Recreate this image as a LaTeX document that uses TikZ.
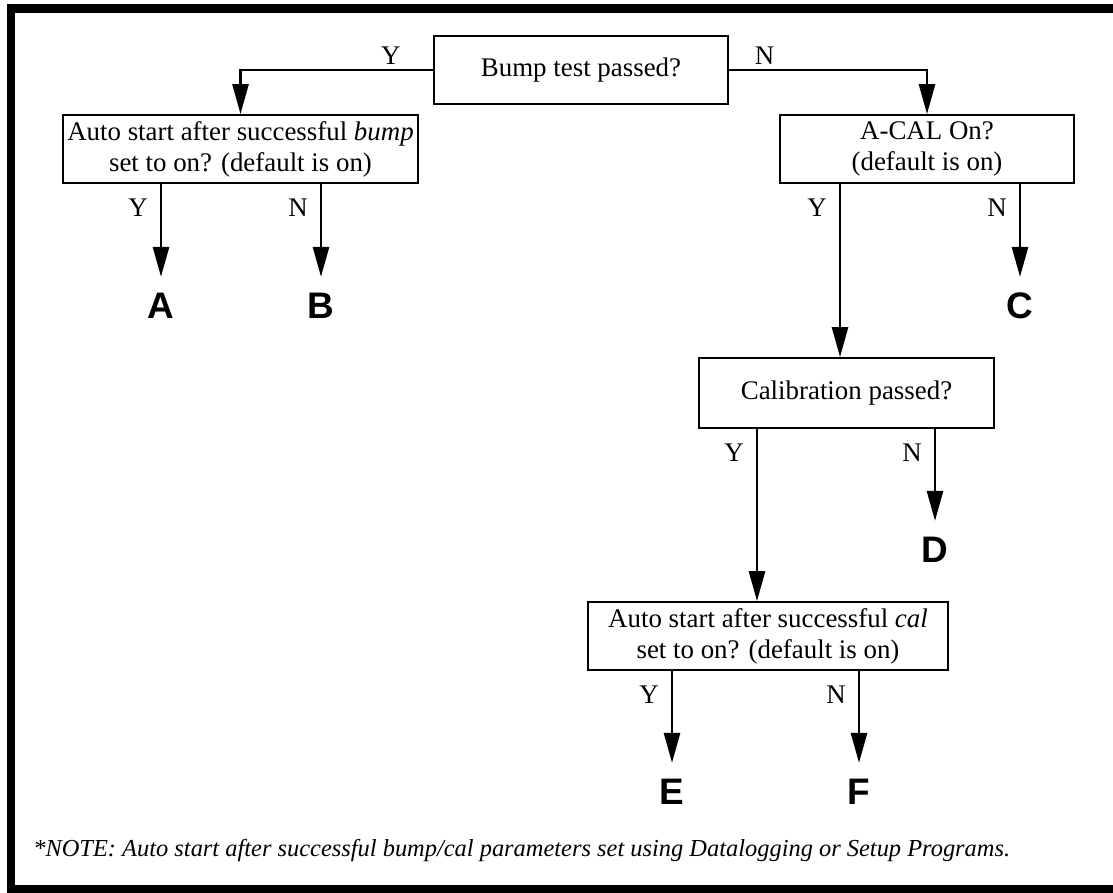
\documentclass[tikz,border=0pt]{standalone}
\usepackage{fontspec}
\setmainfont{Liberation Serif}
\newfontfamily\lettersans{Liberation Sans}
\usepackage{tikz}
\usetikzlibrary{arrows.meta,positioning}

\begin{document}
\begin{tikzpicture}[
  font=\fontsize{15.3}{17.6}\selectfont,
  qbox/.style={draw,line width=1pt,align=center,minimum height=1.36cm,inner sep=2pt},
  yn/.style={inner xsep=0.24cm,inner ysep=0.28cm},
  term/.style={font=\lettersans\bfseries\fontsize{21}{25}\selectfont,inner sep=0pt,outer ysep=0.32cm},
  arr/.style={-{Triangle[length=0.6cm,width=0.32cm]},line width=1.5pt}]
\useasboundingbox (0,0) rectangle (22.26,-17.84);
\draw[line width=0.16cm] (22.26,-0.17) -| (0.21,-17.78) -- (22.26,-17.78);
\node[qbox,minimum width=5.88cm] (bump) at (11.62,-1.40) {Bump test passed?};
\node[qbox,minimum width=7.10cm] (autobump) at (4.81,-2.98) {Auto start after successful \textit{bump}\\set to on? (default is on)};
\node[qbox,minimum width=5.88cm] (acal) at (18.54,-2.98) {A-CAL On?\\(default is on)};
\node[qbox,minimum width=5.90cm,minimum height=1.40cm] (cal) at (16.93,-7.86) {Calibration passed?};
\node[qbox,minimum width=7.20cm] (autocal) at (15.36,-12.72) {Auto start after successful \textit{cal}\\set to on? (default is on)};
% exit points under the boxes
\coordinate (abY) at ([xshift=-1.59cm]autobump.south);
\coordinate (abN) at ([xshift=1.61cm]autobump.south);
\coordinate (acY) at ([xshift=-1.74cm]acal.south);
\coordinate (acN) at ([xshift=1.86cm]acal.south);
\coordinate (cY) at ([xshift=-1.79cm]cal.south);
\coordinate (cN) at ([xshift=1.77cm]cal.south);
\coordinate (atY) at ([xshift=-1.92cm]autocal.south);
\coordinate (atN) at ([xshift=1.82cm]autocal.south);
% end letters
\node[term,below=1.86cm of abY] (A) {A};
\node[term,below=1.86cm of abN] (B) {B};
\node[term,below=1.86cm of acN] (C) {C};
\node[term,below=1.84cm of cN] (D) {D};
\node[term,below=1.84cm of atY] (E) {E};
\node[term,below=1.84cm of atN] (F) {F};
\node[anchor=west,inner sep=0pt,font=\fontsize{13.9}{16}\selectfont\itshape] (note) at (0.66,-17.0)
  {*NOTE: Auto start after successful bump/cal parameters set using Datalogging or Setup Programs.};
\draw[arr] (bump.west) -| node[pos=0.11,above=0.08cm,inner sep=0pt]{Y} (autobump);
\draw[arr] (bump.east) -| node[pos=0.09,above=0.08cm,inner sep=0pt]{N} (acal);
\draw[arr] (abY) -- node[yn,at start,below left]{Y} (A);
\draw[arr] (abN) -- node[yn,at start,below left]{N} (B);
\draw[arr] (acY) -- node[yn,at start,below left]{Y} (acY |- cal.north);
\draw[arr] (acN) -- node[yn,at start,below left]{N} (C);
\draw[arr] (cY) -- node[yn,at start,below left]{Y} (cY |- autocal.north);
\draw[arr] (cN) -- node[yn,at start,below left]{N} (D);
\draw[arr] (atY) -- node[yn,at start,below left]{Y} (E);
\draw[arr] (atN) -- node[yn,at start,below left]{N} (F);
\end{tikzpicture}
\end{document}
